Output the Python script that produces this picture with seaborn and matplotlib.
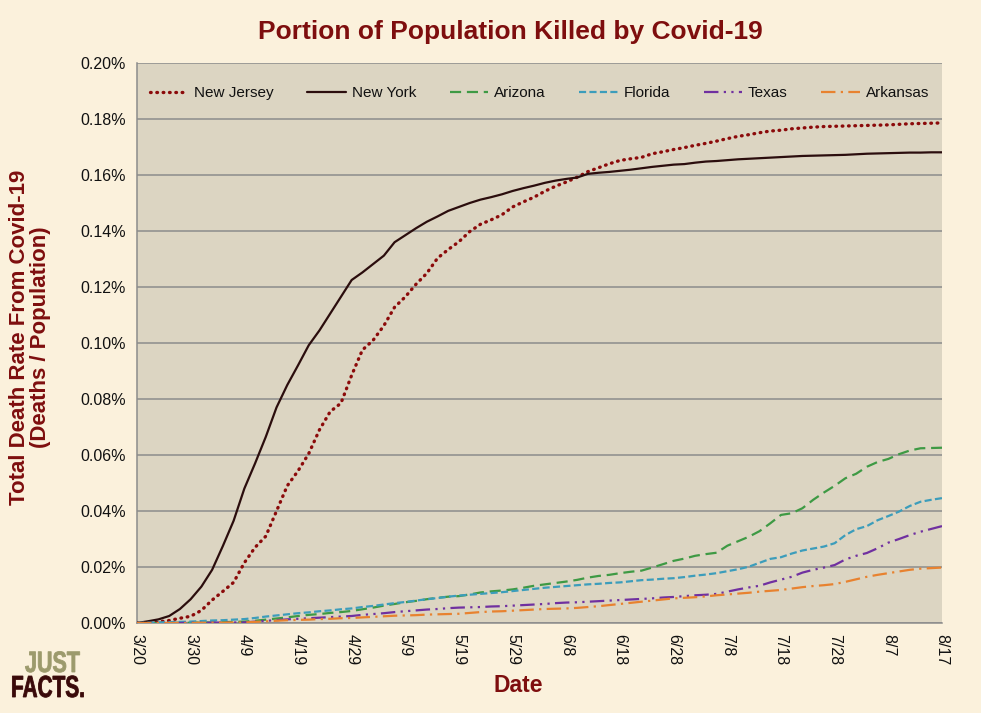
import matplotlib
matplotlib.use("Agg")
import numpy as np
import pandas as pd
import matplotlib.pyplot as plt
import seaborn as sns
from matplotlib.textpath import TextPath
from matplotlib.patches import PathPatch
from matplotlib.font_manager import FontProperties
from matplotlib.transforms import Affine2D

# one value every 2 days, 3/20 .. 8/17 (percent of population)
dates = pd.date_range("2020-03-20", "2020-08-17", freq="2D")

new_jersey = [
    0.0000, 0.0001, 0.0004, 0.0009, 0.0017, 0.0024, 0.0045, 0.0082, 0.0113, 0.0145,
    0.0215, 0.0270, 0.0310, 0.0400, 0.0490, 0.0543, 0.0605, 0.0690, 0.0755, 0.0785,
    0.0885, 0.0975, 0.1010, 0.1062, 0.1128, 0.1165, 0.1210, 0.1249, 0.1303, 0.1334,
    0.1362, 0.1398, 0.1424, 0.1440, 0.1458, 0.1486, 0.1504, 0.1521, 0.1542, 0.1560,
    0.1575, 0.1592, 0.1612, 0.1626, 0.1640, 0.1652, 0.1658, 0.1663, 0.1676, 0.1683,
    0.1691, 0.1698, 0.1706, 0.1713, 0.1721, 0.1730, 0.1738, 0.1744, 0.1751, 0.1757,
    0.1760, 0.1765, 0.1768, 0.1771, 0.1773, 0.1774, 0.1775, 0.1776, 0.1777, 0.1778,
    0.1779, 0.1781, 0.1783, 0.1784, 0.1785, 0.1786,
]
new_york = [
    0.0000, 0.0006, 0.0013, 0.0025, 0.0050, 0.0085, 0.0130, 0.0190, 0.0275, 0.0365,
    0.0480, 0.0570, 0.0665, 0.0770, 0.0850, 0.0920, 0.0992, 0.1045, 0.1105, 0.1165,
    0.1225, 0.1252, 0.1282, 0.1312, 0.1360, 0.1385, 0.1410, 0.1433, 0.1452, 0.1472,
    0.1486, 0.1500, 0.1512, 0.1521, 0.1531, 0.1543, 0.1553, 0.1562, 0.1572, 0.1580,
    0.1586, 0.1591, 0.1604, 0.1608, 0.1611, 0.1615, 0.1619, 0.1624, 0.1629, 0.1633,
    0.1637, 0.1639, 0.1644, 0.1648, 0.1650, 0.1653, 0.1656, 0.1658, 0.1660, 0.1662,
    0.1664, 0.1666, 0.1668, 0.1669, 0.1670, 0.1671, 0.1672, 0.1674, 0.1676, 0.1677,
    0.1678, 0.1679, 0.1680, 0.1680, 0.1681, 0.1681,
]
arizona = [
    0.0000, 0.0000, 0.0000, 0.0000, 0.0001, 0.0001, 0.0002, 0.0002, 0.0003, 0.0004,
    0.0005, 0.0008, 0.0012, 0.0016, 0.0020, 0.0025, 0.0029, 0.0032, 0.0036, 0.0039,
    0.0043, 0.0049, 0.0055, 0.0062, 0.0068, 0.0074, 0.0079, 0.0085, 0.0090, 0.0094,
    0.0096, 0.0102, 0.0109, 0.0113, 0.0116, 0.0120, 0.0126, 0.0133, 0.0138, 0.0143,
    0.0148, 0.0154, 0.0162, 0.0168, 0.0172, 0.0178, 0.0183, 0.0187, 0.0198, 0.0210,
    0.0222, 0.0230, 0.0240, 0.0246, 0.0251, 0.0276, 0.0292, 0.0308, 0.0328, 0.0356,
    0.0386, 0.0392, 0.0410, 0.0440, 0.0466, 0.0490, 0.0517, 0.0533, 0.0558, 0.0575,
    0.0586, 0.0603, 0.0616, 0.0624, 0.0625, 0.0626,
]
florida = [
    0.0000, 0.0001, 0.0002, 0.0003, 0.0004, 0.0005, 0.0007, 0.0009, 0.0010, 0.0012,
    0.0014, 0.0018, 0.0023, 0.0027, 0.0031, 0.0035, 0.0038, 0.0042, 0.0045, 0.0049,
    0.0052, 0.0057, 0.0061, 0.0066, 0.0071, 0.0075, 0.0080, 0.0085, 0.0089, 0.0094,
    0.0098, 0.0101, 0.0104, 0.0107, 0.0110, 0.0114, 0.0118, 0.0122, 0.0126, 0.0129,
    0.0132, 0.0135, 0.0138, 0.0140, 0.0143, 0.0145, 0.0149, 0.0153, 0.0155, 0.0158,
    0.0160, 0.0164, 0.0169, 0.0173, 0.0178, 0.0185, 0.0192, 0.0201, 0.0215, 0.0229,
    0.0235, 0.0248, 0.0259, 0.0266, 0.0273, 0.0285, 0.0314, 0.0335, 0.0346, 0.0367,
    0.0382, 0.0398, 0.0418, 0.0433, 0.0440, 0.0446,
]
texas = [
    0.0000, 0.0000, 0.0000, 0.0000, 0.0000, 0.0001, 0.0001, 0.0001, 0.0002, 0.0002,
    0.0002, 0.0005, 0.0008, 0.0010, 0.0013, 0.0015, 0.0017, 0.0019, 0.0021, 0.0023,
    0.0025, 0.0029, 0.0032, 0.0035, 0.0039, 0.0042, 0.0045, 0.0048, 0.0050, 0.0053,
    0.0055, 0.0056, 0.0057, 0.0059, 0.0060, 0.0062, 0.0064, 0.0066, 0.0068, 0.0071,
    0.0073, 0.0074, 0.0076, 0.0078, 0.0080, 0.0082, 0.0084, 0.0086, 0.0088, 0.0091,
    0.0093, 0.0096, 0.0099, 0.0101, 0.0104, 0.0112, 0.0120, 0.0127, 0.0133, 0.0145,
    0.0155, 0.0165, 0.0180, 0.0190, 0.0198, 0.0207, 0.0227, 0.0240, 0.0250, 0.0267,
    0.0287, 0.0300, 0.0314, 0.0326, 0.0336, 0.0346,
]
arkansas = [
    0.0000, 0.0000, 0.0000, 0.0000, 0.0000, 0.0000, 0.0001, 0.0001, 0.0001, 0.0002,
    0.0002, 0.0004, 0.0006, 0.0008, 0.0010, 0.0011, 0.0012, 0.0014, 0.0015, 0.0017,
    0.0018, 0.0020, 0.0022, 0.0024, 0.0026, 0.0027, 0.0028, 0.0030, 0.0031, 0.0032,
    0.0033, 0.0036, 0.0039, 0.0041, 0.0042, 0.0044, 0.0046, 0.0048, 0.0050, 0.0051,
    0.0052, 0.0054, 0.0057, 0.0060, 0.0064, 0.0068, 0.0072, 0.0076, 0.0080, 0.0084,
    0.0088, 0.0090, 0.0092, 0.0095, 0.0099, 0.0102, 0.0105, 0.0108, 0.0112, 0.0115,
    0.0118, 0.0123, 0.0128, 0.0132, 0.0135, 0.0139, 0.0147, 0.0156, 0.0165, 0.0172,
    0.0178, 0.0184, 0.0190, 0.0194, 0.0196, 0.0198,
]

states = ["New Jersey", "New York", "Arizona", "Florida", "Texas", "Arkansas"]
series = [new_jersey, new_york, arizona, florida, texas, arkansas]

tick_dates = pd.date_range("2020-03-20", "2020-08-17", freq="10D")
tick_labels = [f"{d.month}/{d.day}" for d in tick_dates]
y_ticks = [0.00, 0.02, 0.04, 0.06, 0.08, 0.10, 0.12, 0.14, 0.16, 0.18, 0.20]

line_styles = {
    "New Jersey": dict(color="#8B0A0A", linewidth=2.4, linestyle=(0, (0.2, 1.7)), dash_capstyle="round"),
    "New York": dict(color="#2B0D0D", linewidth=1.6, linestyle="-"),
    "Arizona": dict(color="#3E9A44", linewidth=1.6, linestyle=(0, (5, 2.6))),
    "Florida": dict(color="#3C9DBB", linewidth=1.6, linestyle=(0, (3.2, 1.5))),
    "Texas": dict(color="#7030A0", linewidth=1.6, linestyle=(0, (6.5, 2.4, 1, 2.4, 1, 2.4))),
    "Arkansas": dict(color="#E8822F", linewidth=1.6, linestyle=(0, (6.5, 2.4, 1, 2.4))),
}

sns.set_style("white")
plt.rcParams["font.family"] = ["Liberation Sans", "DejaVu Sans"]

dark_red = "#7E0E0E"
grid_gray = "#8C8C8C"

fig = plt.figure(figsize=(9.81, 7.13), dpi=100, facecolor="#FBF1DC")
ax = fig.add_axes([137 / 981, 1 - 623 / 713, 805 / 981, 560 / 713])
ax.set_facecolor("#DCD5C2")

for name, vals in zip(states, series):
    sns.lineplot(x=dates, y=vals, ax=ax, label=name, zorder=3, **line_styles[name])

ax.set_xlim(dates[0], dates[-1])
ax.set_ylim(0, 0.2)
ax.set_xticks(tick_dates)
ax.set_xticklabels(tick_labels, rotation=270, ha="center", va="top")
ax.set_yticks(y_ticks)
ax.set_yticklabels([f"{v:.2f}%" for v in y_ticks])
ax.tick_params(axis="both", direction="out", length=5, width=1.1, color=grid_gray,
               labelsize=11.5, labelcolor="#111111", pad=3)
ax.grid(axis="y", color=grid_gray, linewidth=1.1)
ax.grid(axis="x", visible=False)
ax.set_axisbelow(True)
for side in ["top", "right"]:
    ax.spines[side].set_visible(False)
for side in ["left", "bottom"]:
    ax.spines[side].set_color(grid_gray)
    ax.spines[side].set_linewidth(1.1)
ax.set_xlabel("")
ax.set_ylabel("")

ax.legend(loc="center", bbox_to_anchor=(0.5, 0.946), ncol=6, frameon=False,
          fontsize=11, handlelength=2.5, handletextpad=0.4, columnspacing=2.2,
          labelcolor="#111111")

fig.text(510 / 981, 1 - 32 / 713, "Portion of Population Killed by Covid-19",
         ha="center", va="center", fontsize=19, fontweight="bold", color=dark_red)
fig.text(30 / 981, 1 - 337 / 713, "Total Death Rate From Covid-19\n(Deaths / Population)",
         ha="center", va="center", rotation=90, fontsize=16, fontweight="bold",
         color=dark_red, linespacing=1.05)
fig.text(518 / 981, 1 - 686 / 713, "Date", ha="center", va="center",
         fontsize=16.5, fontweight="bold", color=dark_red)

# Just Facts logo: tall, condensed letters drawn as paths in pixel coordinates
logo_font = FontProperties(family="Liberation Sans", weight="bold")
for word, left, baseline, sx, sy, color in [
    ("JUST", 25, 713 - 672, 21.5, 29.5, "#9C9A6C"),
    ("FACTS.", 11, 713 - 697, 20.8, 30.5, "#3A0A0A"),
]:
    path = TextPath((0, 0), word, size=1, prop=logo_font)
    tr = Affine2D().scale(sx, sy).translate(left, baseline)
    fig.add_artist(PathPatch(path, transform=tr, facecolor=color, edgecolor=color, lw=0.6))

fig.savefig("out.png", dpi=100, facecolor=fig.get_facecolor())
